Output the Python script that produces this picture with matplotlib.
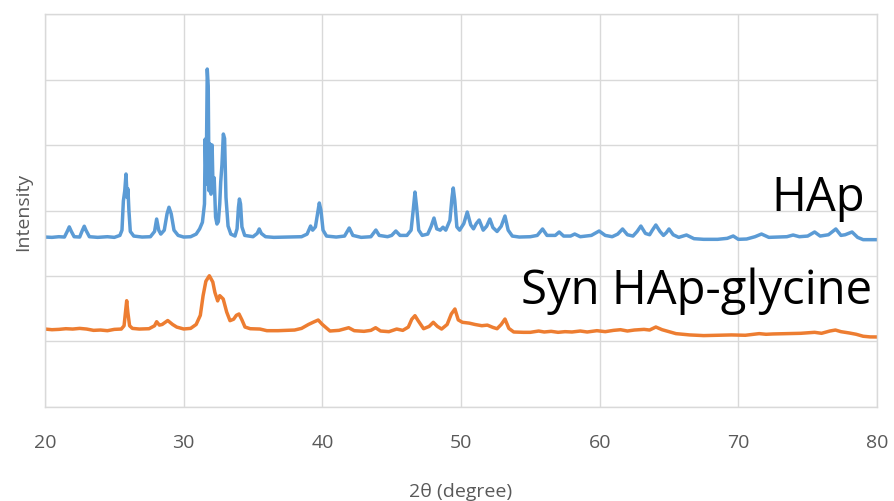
import matplotlib
matplotlib.use("Agg")
from matplotlib import pyplot as plt

# HAp pattern (2theta, intensity in arbitrary units)
hap_2theta = [20.0, 20.5, 21.0, 21.4, 21.6, 21.75, 21.9, 22.1, 22.5, 22.7, 22.83, 22.95, 23.2, 23.8, 24.5,
              25.0, 25.4, 25.55, 25.65, 25.75, 25.84, 25.92, 25.98, 26.05, 26.15, 26.4, 27.0, 27.6, 27.9,
              28.05, 28.2, 28.35, 28.6, 28.8, 28.94, 29.1, 29.3, 29.6, 30.0, 30.5, 30.9, 31.15, 31.35, 31.5,
              31.55, 31.62, 31.70, 31.77, 31.83, 31.9, 31.97, 32.05, 32.12, 32.2, 32.3, 32.4, 32.5, 32.6,
              32.67, 32.76, 32.86, 32.95, 33.05, 33.2, 33.4, 33.7, 33.85, 33.95, 34.02, 34.1, 34.2, 34.4,
              35.0, 35.3, 35.45, 35.6, 35.9, 36.5, 37.5, 38.5, 38.9, 39.15, 39.3, 39.5, 39.65, 39.78, 39.9,
              40.05, 40.3, 41.0, 41.6, 41.94, 42.2, 42.8, 43.5, 43.86, 44.1, 44.7, 45.0, 45.3, 45.6, 46.1,
              46.4, 46.55, 46.68, 46.8, 46.95, 47.2, 47.6, 47.85, 48.05, 48.25, 48.5, 48.7, 48.9, 49.2,
              49.35, 49.44, 49.55, 49.7, 49.9, 50.2, 50.45, 50.7, 50.9, 51.1, 51.31, 51.6, 51.85, 52.08,
              52.3, 52.6, 52.9, 53.17, 53.4, 53.7, 54.2, 55.0, 55.5, 55.88, 56.2, 56.8, 57.08, 57.4, 57.9,
              58.2, 58.6, 59.4, 59.96, 60.4, 60.9, 61.3, 61.65, 62.0, 62.4, 62.7, 62.97, 63.3, 63.6, 63.8,
              64.05, 64.35, 64.6, 64.8, 65.0, 65.3, 65.7, 66.26, 66.8, 67.5, 68.5, 69.2, 69.63, 70.0, 70.6,
              71.2, 71.67, 72.2, 72.8, 73.5, 73.95, 74.4, 75.0, 75.5, 75.9, 76.5, 77.03, 77.4, 77.7, 78.2,
              78.6, 79.0, 79.5, 80.0]
hap_int = [2595, 2590, 2600, 2595, 2680, 2750, 2680, 2600, 2595, 2700, 2760, 2700, 2600, 2590, 2600,
           2590, 2620, 2700, 3145, 3300, 3557, 3200, 3330, 3000, 2680, 2610, 2595, 2600, 2680,
           2870, 2700, 2640, 2700, 2950, 3050, 2950, 2700, 2620, 2595, 2600, 2640, 2720, 2820, 3100,
           4090, 3400, 5160, 4900, 3300, 4015, 3250, 4000, 3300, 3500, 2900, 2794, 2830, 3100,
           3435, 3700, 4168, 4100, 3200, 2763, 2640, 2610, 2720, 3050, 3176, 3100, 2750, 2620,
           2600, 2650, 2718, 2650, 2600, 2590, 2595, 2600, 2640, 2763, 2700, 2750, 2950, 3115, 3000,
           2700, 2610, 2595, 2610, 2733, 2620, 2590, 2600, 2702, 2620, 2600, 2620, 2687, 2620, 2620,
           2700, 3000, 3282, 3050, 2700, 2620, 2640, 2760, 2885, 2720, 2700, 2745, 2700, 2850,
           3200, 3344, 3150, 2750, 2700, 2800, 2977, 2780, 2720, 2800, 2855, 2700, 2760, 2870,
           2740, 2680, 2760, 2916, 2700, 2610, 2595, 2600, 2620, 2718, 2620, 2620, 2672, 2610, 2610,
           2641, 2600, 2620, 2687, 2620, 2600, 2640, 2718, 2630, 2610, 2680, 2763, 2650, 2630, 2700,
           2779, 2680, 2620, 2660, 2718, 2630, 2590, 2626, 2570, 2560, 2560, 2575, 2611, 2560, 2565,
           2600, 2641, 2590, 2595, 2600, 2626, 2600, 2610, 2672, 2610, 2630, 2718, 2620, 2630, 2672,
           2590, 2555, 2555, 2555]

# Syn HAp-glycine pattern
syn_2theta = [20.0, 20.5, 21.0, 21.5, 22.0, 22.5, 23.0, 23.5, 24.0, 24.5, 25.0, 25.5, 25.7, 25.8, 25.89,
              25.97, 26.1, 26.3, 26.8, 27.5, 27.9, 28.05, 28.25, 28.45, 28.85, 29.2, 29.5, 30.0, 30.5,
              30.9, 31.2, 31.4, 31.6, 31.85, 32.1, 32.25, 32.45, 32.6, 32.85, 33.1, 33.34, 33.6, 33.8,
              33.99, 34.2, 34.42, 34.8, 35.5, 36.0, 36.8, 37.5, 38.0, 38.5, 39.0, 39.4, 39.7, 40.0,
              40.55, 41.2, 41.9, 42.3, 43.0, 43.5, 43.84, 44.2, 44.8, 45.36, 45.8, 46.2, 46.45, 46.68,
              46.9, 47.3, 47.7, 48.0, 48.3, 48.6, 49.0, 49.3, 49.56, 49.8, 50.1, 50.6, 51.0, 51.5, 51.9,
              52.3, 52.6, 52.9, 53.17, 53.45, 53.8, 54.5, 55.0, 55.6, 56.0, 56.5, 57.0, 57.5, 58.0, 58.6,
              59.1, 59.8, 60.4, 61.0, 61.5, 62.0, 62.5, 63.2, 63.6, 64.05, 64.5, 65.0, 65.5, 66.5, 67.5,
              68.5, 69.5, 70.5, 71.5, 72.0, 72.5, 73.5, 74.5, 75.5, 76.0, 76.6, 77.0, 77.4, 78.0, 78.5,
              79.0, 79.5, 80.0]
syn_int = [1190, 1180, 1185, 1195, 1190, 1200, 1190, 1170, 1175, 1165, 1185, 1190, 1240, 1450, 1623,
           1450, 1240, 1200, 1190, 1195, 1240, 1302, 1250, 1260, 1320, 1260, 1220, 1191, 1200,
           1260, 1400, 1700, 1920, 2004, 1908, 1750, 1620, 1700, 1649, 1450, 1318, 1340, 1400,
           1420, 1330, 1221, 1195, 1190, 1165, 1165, 1170, 1175, 1200, 1260, 1300, 1328, 1260,
           1160, 1170, 1210, 1165, 1155, 1170, 1210, 1160, 1150, 1190, 1170, 1220, 1340, 1394,
           1320, 1195, 1230, 1293, 1230, 1190, 1260, 1420, 1496, 1330, 1293, 1280, 1260, 1241, 1250,
           1215, 1195, 1260, 1343, 1200, 1145, 1140, 1140, 1160, 1145, 1155, 1140, 1150, 1145, 1160,
           1145, 1165, 1150, 1170, 1180, 1160, 1175, 1185, 1175, 1221, 1180, 1150, 1120, 1100, 1090,
           1095, 1100, 1095, 1120, 1110, 1115, 1120, 1125, 1140, 1125, 1160, 1175, 1150, 1130, 1110,
           1080, 1070, 1069]

x_ticks = [20, 30, 40, 50, 60, 70, 80]

plt.rcParams['font.family'] = ['Open Sans', 'DejaVu Sans']

fig = plt.figure(figsize=(8.95, 5.02), dpi=100)
ax = fig.add_axes([0.0503, 0.1873, 0.9296, 0.7827])

ax.plot(syn_2theta, syn_int, color='#ED7D31', linewidth=2.5, solid_joinstyle='round')
ax.plot(hap_2theta, hap_int, color='#5B9BD5', linewidth=2.5, solid_joinstyle='round')

ax.set_xlim(20, 80)
ax.set_ylim(0, 6000)
ax.set_xticks(x_ticks)
ax.set_yticks(range(0, 6001, 1000))
ax.set_yticklabels([])
ax.tick_params(axis='both', length=0, labelsize=14, labelcolor='#595959')
ax.tick_params(axis='x', pad=19)
ax.grid(True, color='#D9D9D9', linewidth=1)
ax.set_axisbelow(True)
for s in ax.spines.values():
    s.set_color('#D9D9D9')
    s.set_linewidth(1)

ax.set_xlabel('2θ (degree)', fontsize=14, color='#595959', labelpad=22)
ax.set_ylabel('Intensity', fontsize=14, color='#595959', labelpad=6)

ax.text(79.13, 3008, 'HAp', fontsize=34, ha='right', va='baseline', color='black')
ax.text(79.64, 1588, 'Syn HAp-glycine', fontsize=34, ha='right', va='baseline', color='black')

fig.savefig('out.png', dpi=100)
